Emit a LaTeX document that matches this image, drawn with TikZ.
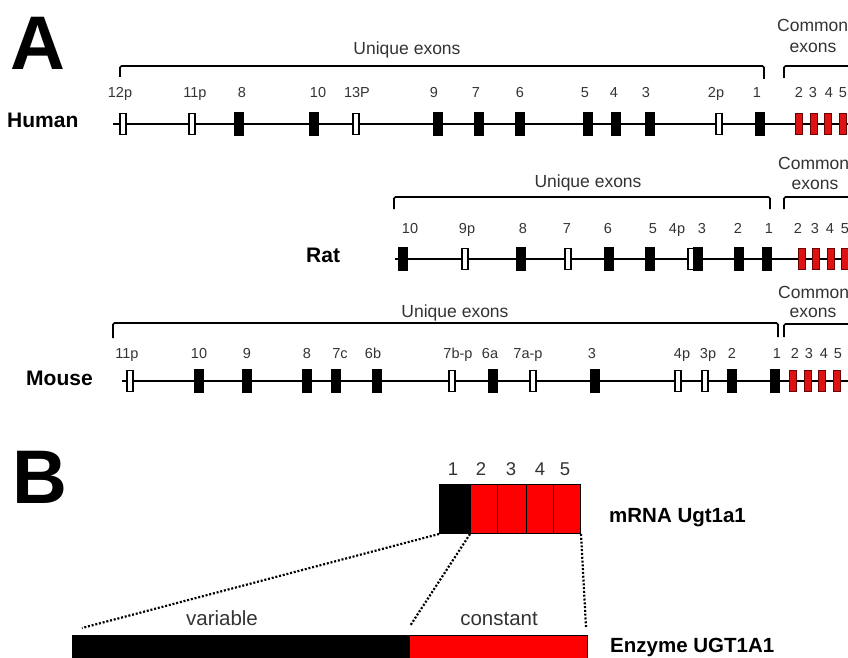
\documentclass[tikz,border=0pt]{standalone}
\usepackage{fontspec}
\setmainfont{Liberation Sans}
\definecolor{lbl}{HTML}{333333}
\definecolor{exred}{HTML}{DD1212}
\definecolor{exredline}{HTML}{6A0000}
\definecolor{bred}{HTML}{FF0000}
\begin{document}
\begin{tikzpicture}[x=1pt,y=-1pt,
  exw/.style={draw=black, fill=white, line width=1.6pt, minimum width=6.5pt, minimum height=21pt, inner sep=0pt},
  exb/.style={draw=black, fill=black, line width=1pt, minimum width=8.5pt, minimum height=23pt, inner sep=0pt},
  exr/.style={draw=exredline, fill=exred, line width=1.6pt, minimum width=7pt, minimum height=21pt, inner sep=0pt},
  lab/.style={font=\fontsize{14.5}{15}\selectfont, text=lbl, anchor=base, inner sep=0pt},
  brlab/.style={font=\fontsize{17.5}{18}\selectfont, text=lbl, anchor=base, inner sep=0pt},
  species/.style={font=\bfseries\fontsize{21}{22}\selectfont, anchor=base west, inner sep=0pt},
  biglet/.style={font=\bfseries\fontsize{76}{76}\selectfont, anchor=base west, inner sep=0pt},
  bracket/.style={line width=1.6pt, rounded corners=1.5pt},
  gene/.style={line width=2.6pt},
  cell/.style={draw=black, line width=1pt, minimum height=49pt, inner sep=0pt, anchor=north west},
  bar/.style={minimum height=32pt, inner sep=0pt, anchor=north west},
  dots/.style={line width=2.2pt, dash pattern=on 2pt off 1.8pt},
  btxt/.style={font=\fontsize{20.5}{21}\selectfont, text=lbl, anchor=base, inner sep=0pt},
  bname/.style={font=\bfseries\fontsize{20.5}{21}\selectfont, anchor=base west, inner sep=0pt}
]
\useasboundingbox (0,0) rectangle (848,658);
\clip (0,0) rectangle (848,658);

% ---------- A ----------
\node[biglet] (A) at (10,70) {A};

% Human
\node[species] (human) at (7,128) {Human};
\coordinate (hs) at (113,124);
\coordinate (he) at (852,124);
\draw[gene] (hs) -- (he);
\foreach \x/\t [count=\i] in {123/w,192/w,239/b,314/b,356/w,438/b,479/b,520/b,588/b,616/b,650/b,719/w,760/b,799/r,814/r,828/r,843/r}
  \node[ex\t] (h\i) at (\x,124) {};
\foreach \x/\s [count=\i] in {120/12p,195/11p,242/8,318/10,357/13P,434/9,476/7,520/6,585/5,614/4,646/3,716/2p,757/1,799/2,813/3,829/4,843/5}
  \node[lab] (hl\i) at (\x,98) {\s};
\draw[bracket] (120,77) -- (120,66) -- (764,66) -- (764,79);
\draw[bracket] (784,78) -- (784,66) -- (852,66);
\node[brlab] (hu) at (407,55) {Unique exons};
\node[brlab, anchor=base west] (hc) at (777,32) {Common};
\node[brlab] (hx) at (813,53) {exons};

% Rat
\node[species] (rat) at (306,262) {Rat};
\coordinate (rs) at (395,259);
\coordinate (re) at (852,259);
\draw[gene] (rs) -- (re);
\foreach \x/\t [count=\i] in {403/b,465/w,521/b,568/w,609/b,650/b,691/w,698/b,739/b,767/b,802/r,816/r,831/r,845/r}
  \node[ex\t] (r\i) at (\x,259) {};
\foreach \x/\s [count=\i] in {410/10,467/9p,523/8,567/7,608/6,653/5,677/4p,702/3,738/2,769/1,798/2,815/3,830/4,845/5}
  \node[lab] (rl\i) at (\x,233) {\s};
\draw[bracket] (394,209) -- (394,197) -- (770,197) -- (770,209);
\draw[bracket] (784,209) -- (784,197) -- (852,197);
\node[brlab] (ru) at (588,187) {Unique exons};
\node[brlab, anchor=base west] (rc) at (778,169) {Common};
\node[brlab] (rx) at (815,189) {exons};

% Mouse
\node[species] (mouse) at (26,385) {Mouse};
\coordinate (ms) at (122,381);
\coordinate (me) at (852,381);
\draw[gene] (ms) -- (me);
\foreach \x/\t [count=\i] in {130/w,199/b,247/b,307/b,336/b,377/b,452/w,493/b,533/w,595/b,678/w,705/w,732/b,775/b,793/r,808/r,822/r,837/r}
  \node[ex\t] (mo\i) at (\x,381) {};
\foreach \x/\s [count=\i] in {127/11p,199/10,247/9,307/8,340/7c,373/6b,458/7b-p,490/6a,528/7a-p,592/3,682/4p,708/3p,732/2,777/1,795/2,809/3,824/4,838/5}
  \node[lab] (ml\i) at (\x,358) {\s};
\draw[bracket] (113,338) -- (113,323) -- (778,323) -- (778,337);
\draw[bracket] (784,337) -- (784,324) -- (852,324);
\node[brlab] (mu) at (455,317) {Unique exons};
\node[brlab, anchor=base west] (mc) at (778,298) {Common};
\node[brlab] (mx) at (813,317) {exons};

% ---------- B ----------
\node[biglet] (B) at (12,503) {B};

\node[cell, fill=black, minimum width=31pt] (c1) at (439,484) {};
\node[cell, fill=bred, minimum width=27pt] (c2) at (470,484) {};
\node[cell, fill=bred, minimum width=29pt] (c3) at (497,484) {};
\node[cell, fill=bred, minimum width=27pt] (c4) at (526,484) {};
\node[cell, fill=bred, minimum width=27pt] (c5) at (553,484) {};
\foreach \x/\s [count=\i] in {453/1,481/2,511/3,540/4,565/5}
  \node[font=\fontsize{18.5}{19}\selectfont, text=lbl, anchor=base, inner sep=0pt] (n\i) at (\x,475) {\s};
\node[bname] (mrna) at (609,522) {mRNA Ugt1a1};

\node[bar, fill=black, minimum width=337pt] (ev) at (72,635) {};
\node[bar, fill=bred, draw=black, line width=0.8pt, minimum width=178pt] (ec) at (409,635) {};
\node[bname] (enz) at (610,652) {Enzyme UGT1A1};
\node[btxt] (var) at (222,625) {variable};
\node[btxt] (con) at (499,625) {constant};

\coordinate (dl) at (82,628);
\coordinate (dm) at (410,626);
\coordinate (dr) at (586,627);
\draw[dots] (c1.south west) -- (dl);
\draw[dots] (c2.south west) -- (dm);
\draw[dots] (c5.south east) -- (dr);
\end{tikzpicture}
\end{document}
